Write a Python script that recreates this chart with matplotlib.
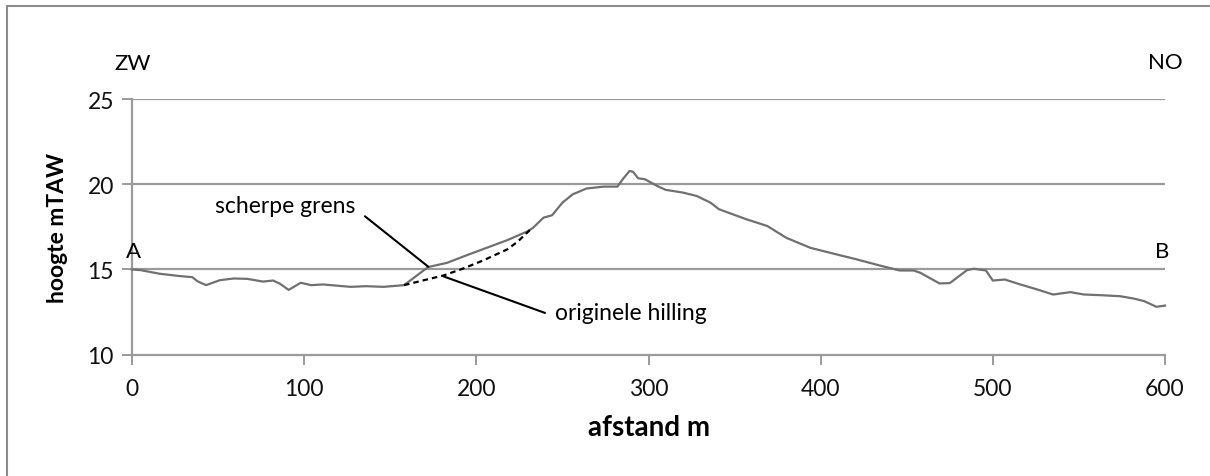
import matplotlib
matplotlib.use("Agg")
import matplotlib.pyplot as plt
from matplotlib.patches import Rectangle

plt.rcParams['font.family'] = ['Lato', 'DejaVu Sans']

# Terrain profile: distance (m) and height (m TAW)
afstand = [0, 5, 16, 28, 35, 38, 43, 51, 59, 67, 76, 82, 86, 91, 98, 104, 111,
           127, 136, 146, 158, 172, 183, 194, 206, 218, 230, 233, 239, 244, 250,
           256, 264, 274, 282, 285, 289, 291, 294, 298, 305, 310, 320, 328, 336,
           341, 357, 369, 380, 394, 407, 421, 434, 446, 454, 458, 469, 475, 485,
           489, 496, 500, 507, 516, 526, 535, 545, 553, 563, 574, 582, 588, 595,
           600]
hoogte = [15.0, 14.96, 14.75, 14.61, 14.55, 14.31, 14.08, 14.37, 14.47, 14.45,
          14.29, 14.35, 14.16, 13.80, 14.22, 14.08, 14.12, 13.98, 14.02, 13.98,
          14.08, 15.14, 15.39, 15.82, 16.27, 16.72, 17.25, 17.45, 18.04, 18.18,
          18.92, 19.41, 19.75, 19.86, 19.86, 20.29, 20.78, 20.73, 20.35, 20.29,
          19.90, 19.67, 19.51, 19.31, 18.92, 18.53, 17.94, 17.55, 16.86, 16.27,
          15.94, 15.59, 15.24, 14.94, 14.94, 14.80, 14.18, 14.20, 14.96, 15.04,
          14.94, 14.35, 14.41, 14.12, 13.82, 13.53, 13.67, 13.53, 13.49, 13.43,
          13.29, 13.14, 12.81, 12.88]

# Reconstructed original slope (dashed)
orig_afstand = [158, 170, 181, 192, 204, 218, 224, 232]
orig_hoogte = [14.08, 14.38, 14.65, 15.04, 15.53, 16.18, 16.63, 17.40]

x_ticks = [0, 100, 200, 300, 400, 500, 600]
y_ticks = [10, 15, 20, 25]

W, H = 1210, 477
fig = plt.figure(figsize=(W / 100, H / 100), dpi=100)
fig.patch.set_facecolor('white')

# outer frame
fig.add_artist(Rectangle((7 / W, -0.1), 1.2, (1 - 7 / H) + 0.1,
                         transform=fig.transFigure, fill=False,
                         edgecolor='#8c8c8c', linewidth=1.5))

ax = fig.add_axes([132 / W, 1 - 355.7 / H, (1165 - 132) / W, (355.7 - 100) / H])
ax.set_xlim(0, 600)
ax.set_ylim(10, 25)

grid_c = '#9a9a9a'
for y in [15, 20, 25]:
    ax.axhline(y, color=grid_c, linewidth=1.6, zorder=1)
for s in ['top', 'right']:
    ax.spines[s].set_visible(False)
for s in ['left', 'bottom']:
    ax.spines[s].set_color(grid_c)
    ax.spines[s].set_linewidth(1.6)

ax.set_xticks(x_ticks)
ax.set_yticks(y_ticks)
ax.tick_params(axis='both', colors=grid_c, width=1.4, length=7,
               labelcolor='#111111', labelsize=16.5)
ax.tick_params(axis='x', pad=10)
ax.tick_params(axis='y', pad=6)

ax.plot(afstand, hoogte, color='#707070', linewidth=1.6, zorder=3,
        clip_on=False)
ax.plot(orig_afstand, orig_hoogte, color='black', linewidth=1.6,
        linestyle=(0, (2.5, 1.8)), zorder=4)

ax.set_xlabel('afstand m', fontsize=20, fontweight='bold', va='center')
ax.xaxis.set_label_coords(0.5, (355.7 - 428) / 255.7)
ax.set_ylabel('hoogte mTAW', fontsize=16.5, fontweight='bold', va='center')
ax.yaxis.set_label_coords((58 - 132) / 1033, 0.5)

# annotations with leader lines
lead = dict(arrowstyle='-', color='black', linewidth=1.5, shrinkA=0, shrinkB=0)
ax.annotate('', xy=(172.1, 15.16), xytext=(135.3, 18.12), arrowprops=lead)
ax.text(129.5, 18.76, 'scherpe grens', fontsize=16.5, ha='right', va='center')
ax.annotate('', xy=(180.8, 14.6), xytext=(239.9, 12.45), arrowprops=lead)
ax.text(245.7, 12.47, 'originele hilling', fontsize=16.5, ha='left',
        va='center')

fs_lab = 16
fig.text(133 / W, 1 - 64 / H, 'ZW', fontsize=fs_lab, ha='center', va='center')
fig.text(1165 / W, 1 - 63 / H, 'NO', fontsize=fs_lab, ha='center', va='center')
fig.text(133 / W, 1 - 252 / H, 'A', fontsize=fs_lab, ha='center', va='center')
fig.text(1162 / W, 1 - 252 / H, 'B', fontsize=fs_lab, ha='center', va='center')

fig.savefig('out.png', dpi=100, facecolor='white')
